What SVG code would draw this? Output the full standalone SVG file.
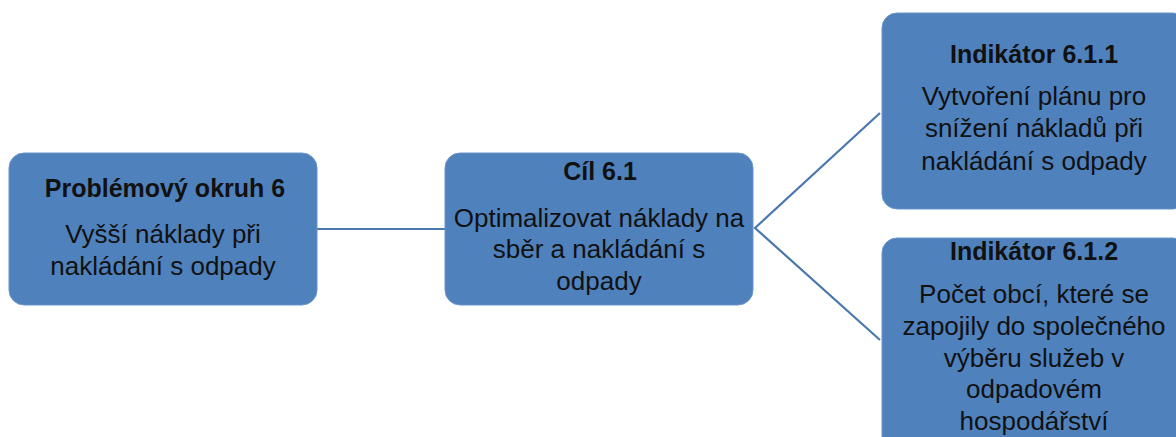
<svg xmlns="http://www.w3.org/2000/svg" width="1176" height="437" viewBox="0 0 1176 437">
<style>
.box{fill:#4F81BD;stroke:#6A95CA;stroke-width:1}
.h{font-family:"Liberation Sans",Arial,sans-serif;font-weight:bold;font-size:25px;fill:#111;text-anchor:middle}
.t{font-family:"Liberation Sans",Arial,sans-serif;font-size:26px;fill:#111;text-anchor:middle}
.c{stroke:#4A78AE;stroke-width:2.2;fill:none}
</style>
<rect width="1176" height="437" fill="#fff"/>
<g id="connectors">
<line class="c" x1="317" y1="229" x2="445" y2="229"/>
<polyline class="c" points="880,113 755,228 880,340"/>
</g>
<g id="node1">
<rect class="box" x="9" y="153" width="308" height="152" rx="15"/>
<text class="h" x="165" y="197">Problémový okruh 6</text>
<text class="t" x="163" y="243">Vyšší náklady při</text>
<text class="t" x="163" y="275">nakládání s odpady</text>
</g>
<g id="node2">
<rect class="box" x="445" y="153" width="308" height="152" rx="15"/>
<text class="h" x="600" y="180">Cíl 6.1</text>
<text class="t" x="599" y="227">Optimalizovat náklady na</text>
<text class="t" x="599" y="258">sběr a nakládání s</text>
<text class="t" x="599" y="290">odpady</text>
</g>
<g id="node3">
<rect class="box" x="882" y="13" width="306" height="196" rx="15"/>
<text class="h" x="1034" y="63">Indikátor 6.1.1</text>
<text class="t" x="1034" y="105">Vytvoření plánu pro</text>
<text class="t" x="1034" y="137">snížení nákladů při</text>
<text class="t" x="1034" y="170">nakládání s odpady</text>
</g>
<g id="node4">
<rect class="box" x="882" y="238" width="306" height="230" rx="15"/>
<text class="h" x="1034" y="260">Indikátor  6.1.2</text>
<text class="t" x="1034" y="303">Počet obcí, které se</text>
<text class="t" x="1034" y="335">zapojily do společného</text>
<text class="t" x="1034" y="367">výběru služeb v</text>
<text class="t" x="1034" y="398">odpadovém</text>
<text class="t" x="1034" y="430">hospodářství</text>
</g>
</svg>
